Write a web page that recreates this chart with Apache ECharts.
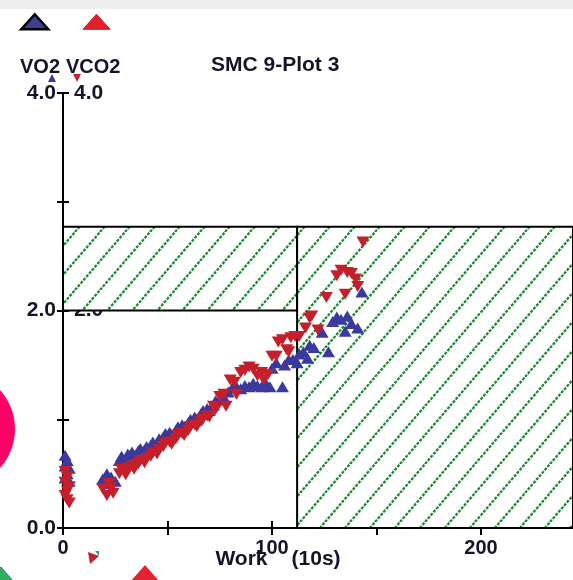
<!DOCTYPE html>
<html>
<head>
<meta charset="utf-8">
<script src="https://cdn.jsdelivr.net/npm/echarts@6/dist/echarts.min.js"></script>
<style>
  html, body { margin: 0; padding: 0; background: #ffffff; }
  #chart { width: 573px; height: 580px; }
</style>
</head>
<body>
<div id="chart"></div>
<script>
// Oxygen uptake per work step, [work (10s), VO2]
var vo2Data = [
  [1,0.67],[2,0.62],[1,0.57],[3,0.55],[2,0.50],[1,0.46],[3,0.43],
  [19,0.45],[21,0.50],[22,0.41],[23,0.47],[25,0.43],
  [27,0.62],[28,0.66],[30,0.63],[31,0.68],[33,0.70],[34,0.67],[36,0.71],[37,0.73],
  [39,0.72],[40,0.75],[42,0.76],[43,0.79],[45,0.78],[46,0.82],[48,0.84],[49,0.87],
  [51,0.88],[52,0.86],[54,0.90],[55,0.93],[57,0.95],[58,0.93],[60,0.97],[61,1.00],
  [63,1.02],[64,1.00],[66,1.05],[67,1.08],[69,1.10],[70,1.08],[72,1.13],[73,1.17],
  [75,1.18],[77,1.20],[79,1.25],[81,1.29],[83,1.30],[85,1.28],[87,1.31],[89,1.30],
  [91,1.33],[93,1.31],[95,1.30],[97,1.33],[99,1.30],[100,1.47],[102,1.52],[105,1.30],
  [106,1.50],[108,1.55],[110,1.55],[112,1.52],[113,1.60],[115,1.62],[117,1.56],[118,1.68],
  [120,1.66],[124,1.80],[127,1.62],[129,1.90],[131,1.94],[133,1.92],[135,1.81],[136,1.95],
  [138,1.88],[141,1.84],[143,2.17]
];

// CO2 output per work step, [work (10s), VCO2]
var vco2Data = [
  [1,0.52],[2,0.47],[1,0.42],[3,0.38],[2,0.34],[1,0.30],[2,0.26],[3,0.23],
  [19,0.36],[21,0.30],[22,0.41],[23,0.37],[24,0.32],
  [27,0.50],[28,0.54],[30,0.49],[31,0.55],[33,0.57],[34,0.54],[36,0.59],[37,0.62],
  [39,0.60],[40,0.64],[42,0.66],[43,0.69],[45,0.68],[46,0.72],[48,0.75],[49,0.78],
  [51,0.79],[52,0.77],[54,0.82],[55,0.85],[57,0.87],[58,0.85],[60,0.90],[61,0.93],
  [63,0.95],[64,0.93],[66,0.98],[67,1.00],[69,1.03],[70,1.02],[72,1.12],[73,1.09],
  [75,1.21],[77,1.23],[78,1.12],[80,1.36],[82,1.34],[83,1.23],[85,1.43],[87,1.45],
  [89,1.48],[91,1.46],[93,1.40],[95,1.43],[96,1.36],[98,1.41],[100,1.58],[102,1.58],
  [103,1.71],[105,1.73],[107,1.64],[108,1.62],[109,1.75],[111,1.76],[113,1.76],[116,1.84],
  [118,1.93],[119,1.95],[122,1.82],[126,2.12],[131,2.32],[133,2.37],[135,2.15],[136,2.35],
  [138,2.34],[140,2.29],[141,2.22],[143.5,2.63]
];

// Axis ranges
var workMax = 244;
var gasMax = 4;

// Limits of the shaded zones
var zoneWork = 112;
var zoneLow = 2.0;
var zoneHigh = 2.77;

var textColor = '#15152a';
var fontFamily = '"Liberation Sans", Arial, sans-serif';

// Diagonal dotted green hatch used as the zone fill
function hatchPattern() {
  var w = 25, h = 29;
  var c = document.createElement('canvas');
  c.width = w; c.height = h;
  var ctx = c.getContext('2d');
  ctx.fillStyle = '#ffffff';
  ctx.fillRect(0, 0, w, h);
  ctx.strokeStyle = '#178a2c';
  ctx.lineWidth = 2.2;
  ctx.setLineDash([3, 1.3]);
  [-w, 0, w].forEach(function (dx) {
    ctx.beginPath();
    ctx.moveTo(dx, h);
    ctx.lineTo(dx + w, 0);
    ctx.stroke();
  });
  return { image: c, repeat: 'repeat' };
}

var chart = echarts.init(document.getElementById('chart'), null, { renderer: 'canvas' });

chart.setOption({
  animation: false,
  backgroundColor: '#ffffff',
  textStyle: { fontFamily: fontFamily },
  title: {
    text: 'SMC 9-Plot 3',
    left: 211,
    top: 55,
    padding: 0,
    textStyle: { fontSize: 21, fontWeight: 'bold', color: textColor, fontFamily: fontFamily }
  },
  legend: {
    left: 20,
    top: 13,
    padding: 0,
    itemWidth: 27,
    itemHeight: 15,
    itemGap: 33,
    selectedMode: false,
    symbolRotate: 0,
    formatter: function () { return ''; },
    data: [
      { name: 'VO2', icon: 'triangle', symbolRotate: 0,
        itemStyle: { color: '#3b3f8c', borderColor: '#000000', borderWidth: 2.5 } },
      { name: 'VCO2', icon: 'triangle', symbolRotate: 0,
        itemStyle: { color: '#e3202b', borderColor: '#c0181f', borderWidth: 1 } }
    ]
  },
  grid: { left: 63, right: 0, top: 93, bottom: 52, containLabel: false, outerBoundsMode: 'none' },
  xAxis: [
    {
      type: 'value', min: 0, max: workMax, interval: 50, position: 'bottom',
      name: '{a|Work}{g| }{b|(10s)}',
      nameLocation: 'middle',
      nameGap: 21,
      nameMoveOverlap: false,
      nameTextStyle: {
        color: textColor, fontSize: 21, fontWeight: 'bold', fontFamily: fontFamily,
        padding: [0, 80, 0, 0],
        rich: {
          a: { fontSize: 21, fontWeight: 'bold', color: textColor, fontFamily: fontFamily },
          g: { width: 24, fontSize: 21 },
          b: { fontSize: 21, fontWeight: 'bold', color: textColor, fontFamily: fontFamily }
        }
      },
      axisLine: { show: true, onZero: false, lineStyle: { color: '#000000', width: 2 } },
      axisTick: { show: true, inside: false, length: 7, lineStyle: { color: '#000000', width: 2 } },
      axisLabel: {
        margin: 10, fontSize: 20, fontWeight: 'bold', color: textColor, fontFamily: fontFamily, showMaxLabel: false,
        formatter: function (v) { return v % 100 === 0 ? String(v) : ''; }
      },
      splitLine: { show: false }
    },
    {
      type: 'value', min: 0, max: workMax, interval: 50, position: 'bottom',
      axisLine: { show: false },
      axisTick: { show: true, inside: true, length: 7, lineStyle: { color: '#000000', width: 2 } },
      axisLabel: { show: false },
      splitLine: { show: false }
    }
  ],
  yAxis: [
    {
      type: 'value', min: 0, max: gasMax, interval: 1, position: 'left',
      name: 'VO2', nameLocation: 'end', nameGap: 16, nameMoveOverlap: false,
      nameTextStyle: { align: 'right', padding: [0, 3, 0, 0], fontSize: 20, fontWeight: 'bold', color: textColor, fontFamily: fontFamily },
      axisLine: { show: true, onZero: false, lineStyle: { color: '#000000', width: 2 } },
      axisTick: { show: true, inside: false, length: 6, lineStyle: { color: '#000000', width: 2 } },
      axisLabel: {
        margin: 7, fontSize: 21, fontWeight: 'bold', color: textColor, fontFamily: fontFamily,
        formatter: function (v) { return v % 2 === 0 ? v.toFixed(1) : ''; }
      },
      splitLine: { show: false }
    },
    {
      type: 'value', min: 0, max: gasMax, interval: 1, position: 'left',
      name: 'VCO2', nameLocation: 'end', nameGap: 16, nameMoveOverlap: false,
      nameTextStyle: { align: 'left', padding: [0, 0, 0, 3], fontSize: 20, fontWeight: 'bold', color: textColor, fontFamily: fontFamily },
      axisLine: { show: false },
      axisTick: { show: true, inside: true, length: 6, lineStyle: { color: '#000000', width: 2 } },
      axisLabel: {
        inside: true, margin: 11, fontSize: 21, fontWeight: 'bold', color: textColor, fontFamily: fontFamily,
        showMinLabel: false,
        formatter: function (v) { return v % 2 === 0 && v > 0 ? v.toFixed(1) : ''; }
      },
      splitLine: { show: false }
    }
  ],
  series: [
    {
      name: 'VO2',
      type: 'scatter',
      xAxisIndex: 0, yAxisIndex: 0,
      z: 3,
      symbol: 'triangle',
      symbolSize: [13, 11],
      itemStyle: { color: '#3a3a9e', opacity: 1 },
      data: vo2Data,
      markArea: {
        silent: true,
        z: 1,
        label: { show: false },
        itemStyle: { color: hatchPattern(), borderColor: '#000000', borderWidth: 2, opacity: 1 },
        data: [
          [{ coord: [0, zoneLow] }, { coord: [zoneWork, zoneHigh] }],
          [{ coord: [zoneWork, 0] }, { coord: [workMax, zoneHigh] }]
        ]
      }
    },
    {
      name: 'VCO2',
      type: 'scatter',
      xAxisIndex: 0, yAxisIndex: 0,
      z: 4,
      symbol: 'triangle',
      symbolRotate: 180,
      symbolSize: [13, 11],
      itemStyle: { color: '#c41f2b', opacity: 1 },
      data: vco2Data
    }
  ],
  graphic: [
    { type: 'rect', left: 0, top: 0, z: 50, shape: { x: 0, y: 0, width: 573, height: 9 }, style: { fill: '#eeeeee' } },
    { type: 'circle', z: 50, shape: { cx: -43, cy: 429, r: 58 }, style: { fill: '#ff0066' } },
    { type: 'polygon', z: 50, shape: { points: [[48, 82], [52, 74], [56, 82]] }, style: { fill: '#3a3a9e' } },
    { type: 'polygon', z: 50, shape: { points: [[73, 74], [81, 74], [77, 82]] }, style: { fill: '#c41f2b' } },
    { type: 'polygon', z: 50, shape: { points: [[-12, 582], [1, 567], [14, 582]] }, style: { fill: '#2fae5c', stroke: '#3a6fd0', lineWidth: 1 } },
    { type: 'polygon', z: 50, shape: { points: [[130, 582], [145, 565], [160, 582]] }, style: { fill: '#e52232' } },
    { type: 'polygon', z: 50, shape: { points: [[88, 552], [99, 556], [90, 564]] }, style: { fill: '#c41f2b' } },
    { type: 'polygon', z: 50, shape: { points: [[95, 551], [99, 551], [99, 556]] }, style: { fill: '#2a9d8f' } }
  ]
});
</script>
</body>
</html>
